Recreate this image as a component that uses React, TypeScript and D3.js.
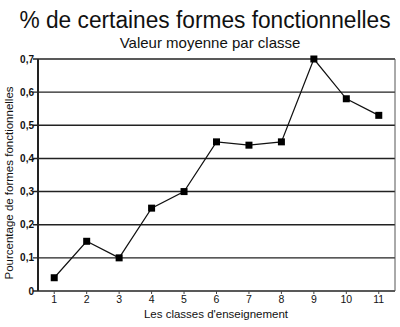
import React from "react";
import * as d3 from "d3";

const classes = ["1", "2", "3", "4", "5", "6", "7", "8", "9", "10", "11"];
const values = [0.04, 0.15, 0.1, 0.25, 0.3, 0.45, 0.44, 0.45, 0.7, 0.58, 0.53];
const yTicks = [0, 0.1, 0.2, 0.3, 0.4, 0.5, 0.6, 0.7];
const yTickLabels = ["0", "0,1", "0,2", "0,3", "0,4", "0,5", "0,6", "0,7"];

const W = 400;
const H = 327;
const left = 38;
const right = 395;
const top = 59;
const bottom = 291;
const font = "Liberation Sans, Arial, sans-serif";

export default function App() {
  const x = d3.scaleBand<string>().domain(classes).range([left, right]);
  const cx = (c: string) => (x(c) as number) + x.bandwidth() / 2;
  const y = d3.scaleLinear().domain([0, 0.7]).range([bottom, top]);
  const line = d3
    .line<number>()
    .x((_, i) => cx(classes[i]))
    .y((v) => y(v));

  return (
    <svg
      width={W}
      height={H}
      style={{ position: "absolute", left: 0, top: 0, background: "#fff" }}
      fontFamily={font}
    >
      <rect x={0} y={0} width={W} height={H} fill="#fff" />
      <text x={205} y={28} textAnchor="middle" fontSize={23} fill="#111" textLength={371} lengthAdjust="spacingAndGlyphs">
        % de certaines formes fonctionnelles
      </text>
      <text x={210} y={48} textAnchor="middle" fontSize={15} fill="#111">
        Valeur moyenne par classe
      </text>

      {yTicks.map((t, i) => (
        <g key={t}>
          <line x1={left - 5} x2={right} y1={y(t)} y2={y(t)} stroke="#222" strokeWidth={1.4} />
          <text x={left - 4} y={y(t) + 3.5} textAnchor="end" fontSize={10} fontWeight="bold" fill="#111">
            {yTickLabels[i]}
          </text>
        </g>
      ))}
      <line x1={left} x2={left} y1={top} y2={bottom} stroke="#222" strokeWidth={2} />
      <line x1={right} x2={right} y1={top} y2={bottom} stroke="#555" strokeWidth={1} />

      {classes.map((c) => (
        <g key={c}>
          <line x1={cx(c)} x2={cx(c)} y1={bottom} y2={bottom + 3} stroke="#444" strokeWidth={1} />
          <text x={cx(c)} y={303} textAnchor="middle" fontSize={10.5} fill="#111">
            {c}
          </text>
        </g>
      ))}

      <path d={line(values) || ""} fill="none" stroke="#111" strokeWidth={1.2} />
      {values.map((v, i) => (
        <rect key={i} x={cx(classes[i]) - 3.5} y={y(v) - 3.5} width={7} height={7} fill="#000" />
      ))}

      <text x={216} y={318} textAnchor="middle" fontSize={11.5} fill="#111">
        Les classes d'enseignement
      </text>
      <text
        transform={`translate(13,${(top + bottom) / 2 + 8}) rotate(-90)`}
        textAnchor="middle"
        fontSize={11.5}
        fill="#111"
      >
        Pourcentage de formes fonctionnelles
      </text>
    </svg>
  );
}
